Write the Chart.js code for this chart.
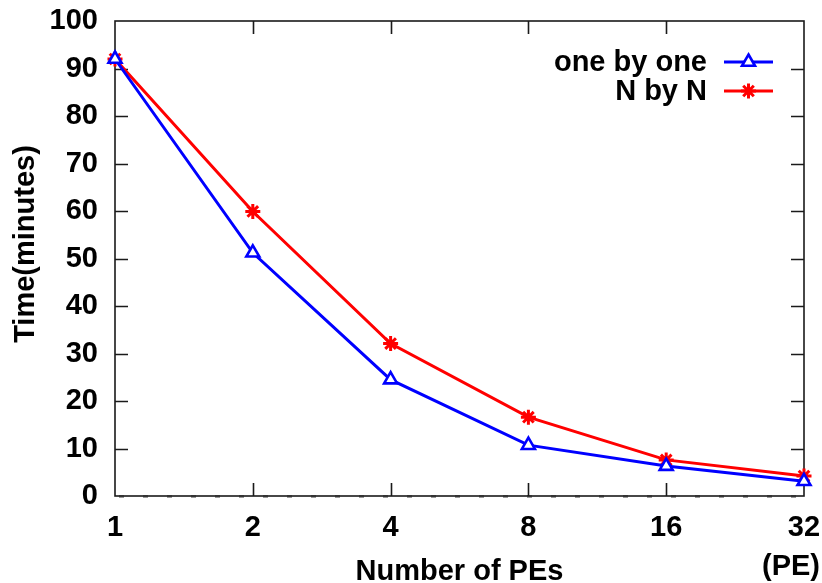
<!DOCTYPE html>
<html>
<head>
<meta charset="utf-8">
<script src="https://cdn.jsdelivr.net/npm/chart.js@4.4.1/dist/chart.umd.min.js"></script>
<style>
    html, body { margin: 0; padding: 0; background: #fff; }
    #wrap { width: 822px; height: 583px; }
</style>
</head>
<body>
<div id="wrap"><canvas id="timeChart"></canvas></div>
<script>
// run time vs number of PEs
const peCounts  = ["1", "2", "4", "8", "16", "32"];
const oneByOne  = [92, 51.2, 24.5, 10.7, 6.3, 3.1];
const nByN      = [92, 59.9, 32.1, 16.6, 7.6, 4.2];
const seriesNames = ["one by one", "N by N"];
const yMin = 0, yMax = 100, yStep = 10;

const FONT = "bold 29px 'Liberation Sans', Arial, sans-serif";
const font = { family: "'Liberation Sans', Arial, sans-serif", size: 29, weight: "bold", lineHeight: 1 };
const BLUE = "#0000ff", RED = "#ff0000";
const TICK_LEN = 13;

// box, inner ticks (mirrored), dashed zero line
const framePlugin = {
    id: "frame",
    beforeDatasetsDraw(chart) {
        const { ctx, chartArea: a, scales: { x, y } } = chart;
        ctx.save();
        // zero axis
        ctx.strokeStyle = "#9a9a9a";
        ctx.lineWidth = 3;
        ctx.setLineDash([5, 19]);
        ctx.beginPath();
        ctx.moveTo(a.left + 4, y.getPixelForValue(0) + 0.5);
        ctx.lineTo(a.right, y.getPixelForValue(0) + 0.5);
        ctx.stroke();
        ctx.setLineDash([]);

        ctx.strokeStyle = "#1a1a1a";
        ctx.lineWidth = 1.6;
        ctx.strokeRect(a.left, a.top, a.right - a.left, a.bottom - a.top);

        ctx.beginPath();
        for (let v = yMin + yStep; v < yMax; v += yStep) {
            const py = Math.round(y.getPixelForValue(v)) + 0.5;
            ctx.moveTo(a.left, py);  ctx.lineTo(a.left + TICK_LEN, py);
            ctx.moveTo(a.right, py); ctx.lineTo(a.right - TICK_LEN, py);
        }
        for (let i = 1; i < peCounts.length - 1; i++) {
            const px = Math.round(x.getPixelForValue(i)) + 0.5;
            ctx.moveTo(px, a.bottom); ctx.lineTo(px, a.bottom - TICK_LEN);
            ctx.moveTo(px, a.top);    ctx.lineTo(px, a.top + TICK_LEN);
        }
        ctx.stroke();
        ctx.restore();
    },
    afterDraw(chart) {
        const { ctx } = chart;
        ctx.save();
        ctx.fillStyle = "#000";
        ctx.font = FONT;
        ctx.textBaseline = "middle";

        // y title
        ctx.save();
        ctx.translate(26, 244);
        ctx.rotate(-Math.PI / 2);
        ctx.textAlign = "center";
        ctx.fillText("Time(minutes)", 0, 0);
        ctx.restore();

        // unit under the last x label
        ctx.textAlign = "center";
        ctx.fillText("(PE)", 791, 567);

        // key, top right inside the box
        const sets = chart.data.datasets;
        const rows = [62, 91];
        sets.forEach((ds, i) => {
            const ry = rows[i];
            ctx.textAlign = "right";
            ctx.fillStyle = "#000";
            ctx.fillText(seriesNames[i], 707, ry + 1);
            ctx.strokeStyle = ds.borderColor;
            ctx.lineWidth = ds.borderWidth;
            ctx.beginPath();
            ctx.moveTo(724, ry); ctx.lineTo(773, ry);
            ctx.stroke();
            ctx.fillStyle = ds.pointBackgroundColor;
            ctx.lineWidth = ds.pointBorderWidth;
            Chart.helpers.drawPoint(ctx, {
                pointStyle: ds.pointStyle, radius: ds.pointRadius,
                rotation: 0, borderWidth: ds.pointBorderWidth
            }, 748.5, ry);
        });
        ctx.restore();
    }
};

new Chart(document.getElementById("timeChart"), {
    type: "line",
    data: {
        labels: peCounts,
        datasets: [
            {
                label: seriesNames[0], data: oneByOne,
                borderColor: BLUE, borderWidth: 3,
                pointStyle: "triangle", pointRadius: 7.5, pointBorderWidth: 2.6,
                pointBorderColor: BLUE, pointBackgroundColor: "#fff",
                tension: 0, clip: false
            },
            {
                label: seriesNames[1], data: nByN,
                borderColor: RED, borderWidth: 3,
                pointStyle: "star", pointRadius: 7.5, pointBorderWidth: 3,
                pointBorderColor: RED, pointBackgroundColor: RED,
                tension: 0, clip: false
            }
        ]
    },
    options: {
        responsive: true, maintainAspectRatio: false, animation: false,
        layout: { padding: { top: 21, right: 18, left: 0, bottom: 0 } },
        plugins: { legend: { display: false }, tooltip: { enabled: false } },
        scales: {
            x: {
                type: "category", offset: false,
                grid: { display: false, drawTicks: false },
                border: { display: false },
                ticks: { color: "#000", font, padding: 17, maxRotation: 0, autoSkip: false },
                title: { display: true, text: "Number of PEs", color: "#000", font, padding: { top: 0, bottom: -3 } },
                afterFit(s) { s.height = 87; s.paddingLeft = 0; s.paddingRight = 0; }
            },
            y: {
                min: yMin, max: yMax,
                grid: { display: false, drawTicks: false },
                border: { display: false },
                ticks: { stepSize: yStep, color: "#000", font, padding: 17 },
                afterFit(s) { s.width = 115; s.paddingTop = 0; s.paddingBottom = 0; }
            }
        }
    },
    plugins: [framePlugin]
});
</script>
</body>
</html>
